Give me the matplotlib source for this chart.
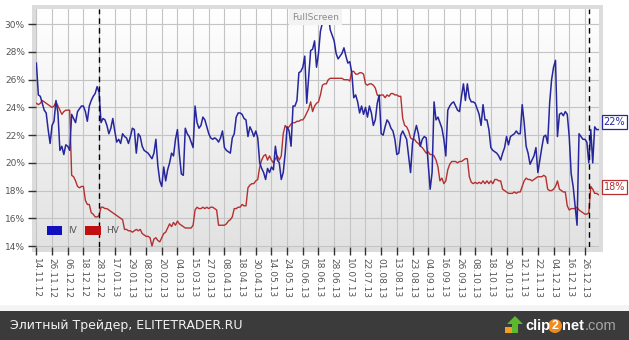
import numpy as np
import matplotlib
matplotlib.use("Agg")
import matplotlib.pyplot as plt
from matplotlib.patches import Rectangle, Ellipse, Patch, Polygon
from matplotlib.colors import LinearSegmentedColormap

# IV / HV, one value per trading day (in %)
iv = [27.2, 24.9, 24.8, 24.3, 23.8, 23.6, 22.4, 21.4, 22.7, 23.0,
      24.5, 23.6, 20.9, 21.2, 20.6, 21.3, 21.2, 20.9, 23.5, 23.2,
      22.9, 23.7, 23.9, 24.1, 24.1, 23.7, 23.0, 24.1, 24.5, 24.8,
      25.0, 25.5, 25.1, 22.9, 23.2, 23.1, 22.7, 22.1, 22.5, 23.2,
      22.3, 21.5, 21.7, 21.4, 22.1, 21.9, 21.8, 21.4, 21.9, 22.5,
      22.4, 20.7, 22.1, 21.9, 21.2, 20.9, 20.8, 20.7, 20.5, 20.3,
      20.7, 21.7, 19.8, 18.7, 18.3, 19.7, 18.7, 19.5, 20.0, 20.7,
      20.5, 21.7, 22.4, 20.6, 19.2, 19.1, 22.5, 22.1, 21.9, 21.5,
      21.1, 24.1, 22.9, 22.5, 22.7, 23.3, 23.1, 22.6, 22.1, 21.8,
      21.7, 21.8, 21.7, 21.5, 21.8, 22.3, 21.1, 20.9, 20.8, 20.7,
      21.8, 22.1, 23.3, 23.6, 23.6, 23.5, 23.2, 23.1, 21.9, 22.6,
      22.3, 21.9, 22.3, 21.8, 20.0, 19.6, 19.3, 18.8, 19.6, 19.3,
      19.7, 19.5, 21.2, 20.2, 20.0, 18.8, 19.3, 20.7, 22.6, 22.3,
      21.2, 24.1, 24.1, 24.5, 26.5, 26.6, 26.9, 27.7, 24.3, 26.2,
      28.1, 28.2, 28.8, 26.9, 27.9, 29.5, 30.1, 30.7, 31.0, 30.7,
      29.6, 29.2, 28.8, 27.9, 27.5, 27.7, 27.9, 28.3, 27.7, 27.2,
      27.3, 26.5, 24.7, 24.9, 24.4, 23.6, 24.1, 23.5, 24.0, 23.3,
      24.1, 23.6, 22.7, 23.1, 24.3, 24.9, 22.1, 22.0, 22.6, 23.1,
      22.9, 22.5, 22.3, 21.7, 20.6, 20.7, 22.0, 22.3, 22.0, 21.7,
      20.5, 19.3, 21.4, 22.1, 22.7, 22.1, 21.2, 21.7, 21.9, 21.8,
      20.0, 18.1, 19.3, 24.4, 23.1, 23.3, 22.9, 22.5, 21.7, 20.5,
      23.8, 24.1, 24.3, 24.4, 24.1, 23.8, 23.7, 24.8, 25.7, 24.5,
      25.7, 24.7, 24.4, 24.4, 24.3, 23.9, 23.5, 22.7, 24.2, 23.1,
      23.1, 22.4, 21.1, 20.9, 20.8, 20.7, 20.5, 20.2, 20.7, 21.1,
      21.9, 21.3, 21.9, 22.0, 22.1, 22.3, 22.1, 22.1, 24.2, 22.9,
      21.2, 20.7, 19.9, 20.2, 20.5, 21.1, 19.3, 20.2, 21.1, 21.9,
      22.0, 21.4, 24.3, 26.0, 26.9, 27.4, 21.9, 23.5, 23.6, 23.4,
      23.7, 23.5, 21.9, 19.2, 18.3, 16.9, 15.5, 22.1, 21.9, 21.7,
      21.7, 21.5, 20.0, 22.4, 20.0, 22.6, 22.4, 22.4]

hv = [24.3, 24.2, 24.3, 24.5, 24.4, 24.3, 24.2, 24.1, 24.0, 24.1,
      24.4, 24.1, 23.8, 23.5, 23.7, 23.8, 23.8, 23.8, 19.1, 19.0,
      18.7, 18.3, 18.2, 18.3, 18.3, 17.3, 17.0, 17.0, 16.4, 16.3,
      16.1, 16.1, 16.2, 16.8, 16.8, 16.7, 16.7, 16.6, 16.5, 16.4,
      16.3, 16.2, 16.1, 16.0, 15.9, 15.2, 15.2, 15.1, 15.1, 15.0,
      15.1, 15.2, 15.1, 15.2, 14.9, 14.8, 14.7, 14.7, 14.6, 14.0,
      14.5, 14.6, 14.4, 14.3, 14.6, 14.9, 15.0, 15.3, 15.6, 15.4,
      15.7, 15.5, 15.8, 15.6, 15.5, 15.4, 15.3, 15.3, 15.3, 15.3,
      15.5, 16.6, 16.8, 16.7, 16.7, 16.8, 16.7, 16.8, 16.7, 16.8,
      16.8, 16.7, 16.6, 15.5, 15.5, 15.5, 15.5, 15.6, 15.8, 15.9,
      16.1, 16.7, 16.7, 16.8, 16.8, 17.0, 16.9, 16.9, 18.2, 18.4,
      18.5, 18.5, 18.7, 18.8, 19.7, 20.2, 20.5, 20.6, 20.2, 20.5,
      20.2, 20.0, 20.3, 20.5, 20.2, 20.5, 22.1, 22.7, 22.5, 22.6,
      22.8, 22.9, 22.9, 23.0, 23.0, 23.1, 23.1, 23.3, 23.6, 23.9,
      24.4, 23.7, 24.1, 24.3, 24.4, 24.9, 25.6, 25.7, 25.7, 26.0,
      26.1, 26.1, 26.1, 26.1, 26.1, 26.1, 26.1, 26.0, 26.0, 26.0,
      25.9, 26.6, 26.6, 26.4, 26.4, 26.5, 26.5, 26.4, 25.7, 25.6,
      25.7, 25.7, 25.6, 25.4, 24.9, 24.8, 24.9, 24.9, 24.7, 24.9,
      24.8, 25.0, 25.0, 24.9, 24.9, 24.8, 24.8, 23.2, 22.7, 22.6,
      22.3, 21.8, 21.7, 21.7, 21.5, 21.4, 21.2, 21.1, 20.9, 20.7,
      20.8, 20.6, 20.6, 20.5, 20.2, 19.7, 18.7, 18.9, 18.5, 18.7,
      19.5, 19.9, 20.1, 20.1, 20.1, 20.0, 20.1, 20.1, 20.2, 20.3,
      20.3, 19.0, 18.6, 18.5, 18.6, 18.5, 18.6, 18.5, 18.7, 18.5,
      18.7, 18.5, 18.7, 18.5, 18.8, 18.8, 18.7, 18.7, 18.1, 18.0,
      17.9, 17.8, 17.8, 17.8, 17.9, 17.8, 17.9, 17.9, 18.3, 18.7,
      18.9, 18.8, 18.8, 18.7, 18.8, 18.9, 19.0, 19.0, 19.0, 19.1,
      19.0, 18.1, 18.0, 18.0, 18.1, 18.3, 18.7, 18.1, 18.0, 17.9,
      17.9, 16.9, 16.6, 16.7, 16.7, 16.7, 16.8, 16.6, 16.5, 16.4,
      16.3, 16.3, 16.4, 18.3, 18.1, 17.8, 17.8, 17.7]

# tick labels, one every 8 trading days
dates = ['14.11.12', '26.11.12', '06.12.12', '18.12.12', '28.12.12', '17.01.13',
         '29.01.13', '08.02.13', '20.02.13', '04.03.13', '15.03.13', '27.03.13',
         '08.04.13', '18.04.13', '30.04.13', '14.05.13', '24.05.13', '05.06.13',
         '18.06.13', '28.06.13', '10.07.13', '22.07.13', '01.08.13', '13.08.13',
         '23.08.13', '04.09.13', '16.09.13', '26.09.13', '08.10.13', '18.10.13',
         '30.10.13', '12.11.13', '22.11.13', '04.12.13', '16.12.13', '26.12.13']
tick_step = 8
expiry_days = [32, 282]
y_ticks = [14, 16, 18, 20, 22, 24, 26, 28, 30]

W, H = 629, 340
iv_color = '#26269e'
hv_color = '#b53030'


def fig_box(x0, y0, x1, y1):
    # pixel box (top-left origin) -> figure fraction (left, bottom, width, height)
    return x0 / W, 1 - y1 / H, (x1 - x0) / W, (y1 - y0) / H


def fx(x):
    return x / W


def fy(y):
    return 1 - y / H


fig = plt.figure(figsize=(W / 100, H / 100), dpi=100)
fig.patch.set_facecolor('white')

# grey frame around the plot
l, b, w, h = fig_box(32, 5, 603, 252)
fig.patches.append(Rectangle((l, b), w, h, transform=fig.transFigure,
                             facecolor='#dcdcdc', edgecolor='none', zorder=-5))

ax = fig.add_axes(fig_box(36, 9, 599, 247))
ax.set_zorder(1)
days = np.arange(len(iv))

grad = LinearSegmentedColormap.from_list('bg', ['#ffffff', '#e2e2e2'])
ax.imshow(np.linspace(0, 1, 200).reshape(-1, 1), cmap=grad, extent=[0, 1, 0, 1],
          transform=ax.transAxes, aspect='auto', origin='upper', zorder=0)

ax.plot(days, hv, color=hv_color, lw=1.0, zorder=3)
ax.plot(days, iv, color=iv_color, lw=1.1, zorder=4)
for d in expiry_days:
    ax.axvline(d, color='black', lw=1.0, ls=(0, (4, 3)), zorder=5)

ax.set_xlim(-0.2, len(iv) - 0.8)
ax.set_ylim(13.93, 31.1)

ax.set_xticks(np.arange(len(dates)) * tick_step)
ax.set_xticklabels(dates, rotation=270, fontsize=6.5, color='#555555')
ax.set_yticks(y_ticks)
ax.set_yticklabels([f'{v}%' for v in y_ticks], fontsize=6.5, color='#555555')
ax.tick_params(axis='both', direction='out', length=6, width=1, color='#333333', pad=2)
ax.grid(True, color='#c4c4c4', lw=0.8)
ax.set_axisbelow(True)
for s in ax.spines.values():
    s.set_visible(False)

# legend
handles = [Patch(facecolor='#1010c0', edgecolor='none'),
           Patch(facecolor='#c01010', edgecolor='none')]
leg = ax.legend(handles, ['IV', 'HV'], loc='lower left', bbox_to_anchor=(0.005, 0.015),
                ncol=2, frameon=False, fontsize=6.5, handlelength=1.7, handleheight=1.1,
                columnspacing=1.0, handletextpad=0.6)
for t in leg.get_texts():
    t.set_color('#555555')

# last value labels
for vals, col in [(iv, iv_color), (hv, hv_color)]:
    ax.annotate(f'{round(vals[-1])}%', xy=(days[-1], vals[-1]), xytext=(5, 3),
                textcoords='offset pixels', ha='left', va='bottom', fontsize=7, color=col,
                bbox=dict(boxstyle='square,pad=0.2', fc='white', ec=col, lw=0.9),
                annotation_clip=False, zorder=6)

ax.text(0.497, 0.966, 'FullScreen', transform=ax.transAxes, ha='center', va='center',
        fontsize=6.5, color='#8a8a8a', zorder=6,
        bbox=dict(boxstyle='square,pad=0.35', fc='#f3f3f3', ec='none'))

# footer
l, b, w, h = fig_box(0, 305, W, 311)
fig.patches.append(Rectangle((l, b), w, h, transform=fig.transFigure,
                             facecolor='#f4f4f4', edgecolor='none', zorder=-5))
l, b, w, h = fig_box(0, 311, W, H)
fig.patches.append(Rectangle((l, b), w, h, transform=fig.transFigure,
                             facecolor='#3b3b3b', edgecolor='none', zorder=-5))
fig.text(fx(10), fy(326), 'Элитный Трейдер, ELITETRADER.RU', color='#f2f2f2',
         fontsize=9, va='center', ha='left')

# clip2net logo
fig.patches.append(Polygon([(fx(505), fy(333)), (fx(515), fy(333)),
                            (fx(515), fy(327)), (fx(505), fy(327))],
                           closed=True, transform=fig.transFigure,
                           facecolor='#f0a020', edgecolor='none'))
fig.patches.append(Polygon([(fx(512), fy(333)), (fx(518), fy(333)),
                            (fx(518), fy(324)), (fx(523), fy(324)),
                            (fx(515), fy(316)), (fx(507), fy(324)),
                            (fx(512), fy(324))],
                           closed=True, transform=fig.transFigure,
                           facecolor='#5cb82e', edgecolor='none'))
logo_font = ['Liberation Sans', 'DejaVu Sans']
fig.text(fx(525), fy(326), 'clip', color='white', fontsize=10.5, family=logo_font,
         fontweight='bold', va='center', ha='left')
fig.patches.append(Ellipse((fx(555), fy(326)), 14 / W, 14 / H, transform=fig.transFigure,
                           facecolor='#f08a1c', edgecolor='none'))
fig.text(fx(555), fy(326), '2', color='white', fontsize=9, fontweight='bold',
         family=logo_font, va='center', ha='center')
fig.text(fx(562), fy(326), 'net', color='white', fontsize=10.5, family=logo_font,
         fontweight='bold', va='center', ha='left')
fig.text(fx(585), fy(326), '.com', color='#a8a8a8', fontsize=10.5, family=logo_font,
         va='center', ha='left')

fig.savefig('out.png', dpi=100)
